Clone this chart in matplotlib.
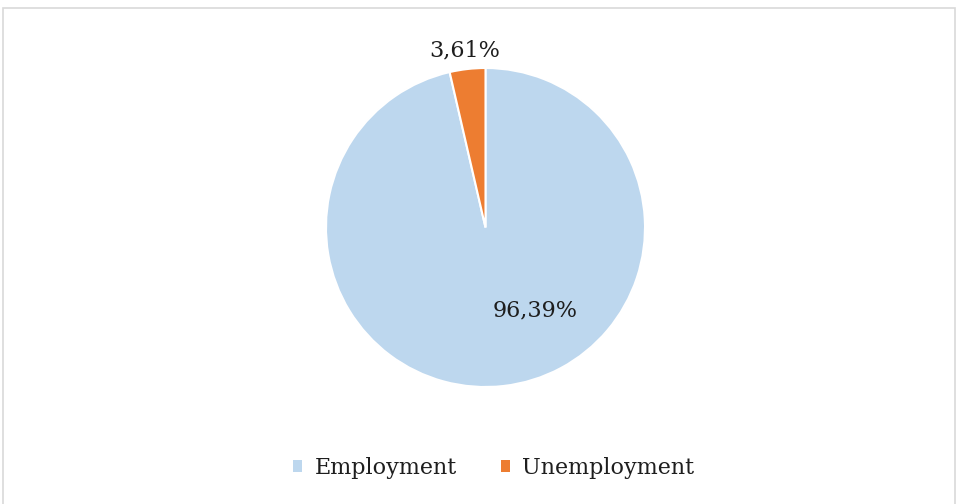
import matplotlib
matplotlib.use("Agg")
import matplotlib.pyplot as plt
from matplotlib.patches import Rectangle, Patch

# labour force split
categories = ["Employment", "Unemployment"]
shares = [96.39, 3.61]
colors = ["#BDD7EE", "#ED7D31"]
text_color = "#1E1E1E"
font = "DejaVu Serif"

W, H = 959, 504
fig = plt.figure(figsize=(W / 100, H / 100), dpi=100)
fig.patch.set_facecolor("white")

# light chart-area border
fig.add_artist(Rectangle((3 / W, -0.01), 952 / W, (H - 8) / H + 0.01,
                         transform=fig.transFigure, fill=False,
                         edgecolor="#D9D9D9", linewidth=1.2))

# pie centre and radius in pixels
cx, cy, r = 485.5, 227.5, 159.5
ax = fig.add_axes([(cx - r) / W, (H - cy - r) / H, 2 * r / W, 2 * r / H])
wedges, _ = ax.pie(shares, colors=colors, startangle=90, counterclock=False,
                   radius=1, wedgeprops=dict(edgecolor="white", linewidth=1.5))
ax.set_xlim(-1, 1)
ax.set_ylim(-1, 1)
ax.set_axis_off()

def pct(v):
    return "{:.2f}%".format(v).replace(".", ",")

ax.text(0.31, -0.52, pct(shares[0]), ha="center", va="center",
        fontsize=16, color=text_color, family=font)
ax.text(-0.129, 1.107, pct(shares[1]), ha="center", va="center",
        fontsize=16, color=text_color, family=font, clip_on=False)

handles = [Patch(facecolor=c, edgecolor="none") for c in colors]
fig.legend(handles, categories, loc="center", bbox_to_anchor=(494 / W, (H - 468) / H),
           ncol=2, frameon=False, handlelength=0.4, handleheight=0.4,
           handletextpad=0.55, columnspacing=2.0,
           prop={"family": font, "size": 16}, labelcolor=text_color)

fig.savefig("out.png", dpi=100)
